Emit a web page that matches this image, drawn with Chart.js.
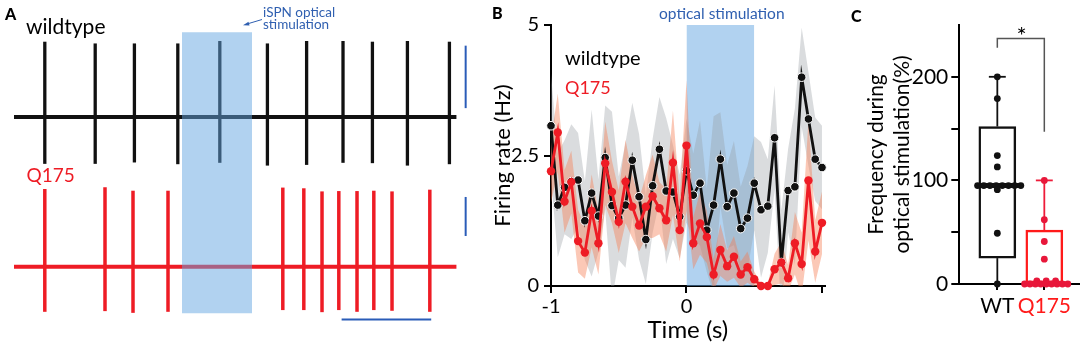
<!DOCTYPE html>
<html>
<head>
<meta charset="utf-8">
<script src="https://cdn.jsdelivr.net/npm/chart.js@4.4.1/dist/chart.umd.min.js"></script>
<style>
  body { margin: 0; background: #fff; }
  #fig { position: relative; width: 1084px; height: 347px; overflow: hidden; font-family: Lato, sans-serif; }
  canvas { position: absolute; top: 0; }
  .lbl { position: absolute; line-height: 1; white-space: nowrap; }
</style>
</head>
<body>
<div id="fig">
  <canvas id="traces" width="470" height="347" style="left:0"></canvas>
  <canvas id="rate" width="350" height="347" style="left:480px"></canvas>
  <canvas id="box" width="254" height="347" style="left:830px"></canvas>

  <div class="lbl" style="left:5px;top:6px;font-size:16px;font-weight:900">A</div>
  <div class="lbl" style="left:26px;top:14.7px;font-size:21px">wildtype</div>
  <div class="lbl" style="left:26.5px;top:165px;font-size:19px;color:#ee1c25">Q175</div>
  <div class="lbl" style="left:263px;top:6px;font-size:13.5px;line-height:12px;color:#2f5fb0">iSPN optical<br>stimulation</div>
  <svg style="position:absolute;left:0;top:0" width="300" height="40">
    <line x1="262" y1="19.5" x2="247" y2="24" stroke="#2f5fb0" stroke-width="1"/>
    <polygon points="243,25.2 248.5,21.8 249.5,25.5" fill="#2f5fb0"/>
  </svg>

  <div class="lbl" style="left:492px;top:5px;font-size:16px;font-weight:900">B</div>
  <div class="lbl" style="left:659px;top:6.3px;font-size:15.5px;color:#2f5fb0">optical stimulation</div>
  <div class="lbl" style="left:565px;top:46.6px;font-size:20px">wildtype</div>
  <div class="lbl" style="left:565px;top:78px;font-size:18px;color:#ee1c25">Q175</div>

  <div class="lbl" style="left:851px;top:7.5px;font-size:16px;font-weight:900">C</div>
  <div class="lbl" style="left:1011.7px;width:20px;text-align:center;top:22.7px;font-size:24px">*</div>
</div>
<script>
// ---- panel A: example traces (time in s, amplitude in trace units) ----
const traceDuration = 3.16;
const wtSpikeTimes = [0.22, 0.58, 0.86, 1.17, 1.47, 1.81, 2.09, 2.35, 2.56, 2.81, 3.11];
const wtSpikePeaks = [21.7, 21.2, 21.2, 21.2, 21.9, 21.2, 21.9, 21.9, 21.7, 21.9, 21.7];
const wtSpikeTroughs = [13.5, 13.5, 13.1, 13.6, 13.2, 14.0, 13.8, 13.2, 13.3, 14.0, 13.6];
const q175SpikeTimes = [0.22, 0.65, 0.85, 1.10, 1.92, 2.07, 2.20, 2.32, 2.45, 2.57, 2.70, 2.97];
const q175SpikePeaks = [22.4, 22.9, 21.9, 21.9, 22.8, 22.6, 21.7, 21.8, 21.8, 21.9, 21.7, 22.2];
const q175SpikeTroughs = [13.0, 12.8, 13.3, 13.0, 12.5, 12.5, 13.1, 12.5, 13.0, 12.5, 12.7, 13.0];
const stimWindowA = [1.2, 1.7];
const timeScaleBar = [2.34, 2.98];

// ---- panel B: firing rate, 50 ms bins ----
const timeBins = [-1, -0.95, -0.9, -0.85, -0.8, -0.75, -0.7, -0.65, -0.6, -0.55, -0.5,
  -0.45, -0.4, -0.35, -0.3, -0.25, -0.2, -0.15, -0.1, -0.05, 0,
  0.05, 0.1, 0.15, 0.2, 0.25, 0.3, 0.35, 0.4, 0.45, 0.5,
  0.55, 0.6, 0.65, 0.7, 0.75, 0.8, 0.85, 0.9, 0.95, 1];
const wtRate = [3.07, 1.55, 1.89, 2.0, 2.03, 1.25, 1.78, 1.34, 2.46, 1.54, 1.3,
  1.55, 2.41, 1.71, 0.89, 1.92, 2.62, 1.82, 1.8, 1.33, 2.21,
  1.74, 1.97, 1.07, 1.55, 2.43, 1.52, 1.78, 1.1, 1.3, 1.97,
  1.46, 1.53, 2.84, 0.45, 1.83, 1.9, 4.0, 3.2, 2.43, 2.27];
const wtSem = [1.0, 1.0, 0.9, 1.1, 0.9, 0.75, 1.6, 0.7, 1.0, 1.8, 0.8,
  1.2, 1.1, 1.2, 0.85, 0.9, 1.0, 1.4, 0.9, 0.8, 1.0,
  0.8, 1.2, 0.8, 1.7, 0.9, 0.8, 1.0, 0.8, 1.0, 0.9,
  1.3, 0.9, 1.0, 1.0, 0.8, 1.5, 0.95, 0.9, 0.8, 0.8];
const q175Rate = [2.2, 2.94, 1.62, 1.99, 0.86, 0.64, 1.44, 0.82, 2.35, 1.8, 1.23,
  2.0, 1.52, 1.16, 1.52, 1.72, 1.49, 1.26, 2.36, 1.07, 2.69,
  0.82, 1.2, 0.94, 0.22, 0.69, 0.38, 0.56, 0.22, 0.36, 0.13,
  0, 0, 0.32, 0.45, 0.15, 0.82, 0.42, 2.02, 0.66, 1.21];
const q175Sem = [0.6, 0.75, 0.6, 0.6, 0.6, 0.5, 0.7, 0.6, 0.8, 0.6, 0.6,
  0.8, 0.6, 0.5, 0.6, 0.8, 0.5, 0.6, 1.0, 0.6, 1.25,
  0.5, 0.6, 0.5, 0.3, 0.5, 0.3, 0.4, 0.25, 0.3, 0.15,
  0.05, 0.05, 0.3, 0.4, 0.25, 0.6, 0.6, 1.15, 0.6, 0.6];
const stimWindow = [0, 0.5];

// ---- panel C: % frequency during stimulation ----
const groups = ['WT', 'Q175'];
const wtValues = [200, 179, 124, 113, 95, 95, 95, 95, 95, 95, 95, 95, 91, 49, 0];
const q175Values = [100, 62, 41, 24, 3, 3, 3, 0, 0, 0, 0, 0, 0, 0, 0, 0];
const wtBox = [0, 25, 95, 152, 200];     // min, q1, median, q3, max
const q175Box = [0, 0, 0, 52, 100];

const BLACK = '#111';
const RED = '#ee1c25';
const STIM = 'rgba(100,165,225,0.5)';
Chart.defaults.font.family = 'Lato';
Chart.defaults.color = '#000';

const pts = (xs, ys) => xs.map((x, i) => ({ x: x, y: ys[i] }));
const seg = (x0, y0, x1, y1) => [{ x: x0, y: y0 }, { x: x1, y: y1 }];
const plain = { pointRadius: 0, fill: false, clip: false, borderCapStyle: 'butt' };

// ---------- A ----------
const wtOffset = 43.14;   // vertical placement of the wildtype trace
const q175Offset = 0;
const traceSets = [];
function addTrace(times, peaks, troughs, offset, color, w) {
  traceSets.push({ ...plain, data: seg(0, offset, traceDuration, offset), borderColor: color, borderWidth: 4, order: 5 });
  times.forEach((t, i) => {
    traceSets.push({ ...plain, data: seg(t, offset - troughs[i], t, offset + peaks[i]), borderColor: color, borderWidth: w, order: 5 });
  });
}
addTrace(wtSpikeTimes, wtSpikePeaks, wtSpikeTroughs, wtOffset, BLACK, 3.3);
addTrace(q175SpikeTimes, q175SpikePeaks, q175SpikeTroughs, q175Offset, RED, 3.5);
traceSets.push({ ...plain, data: seg(stimWindowA[0], 67.55, stimWindowA[1], 67.55), borderWidth: 0,
  fill: { value: -13.43 }, backgroundColor: STIM, order: 0 });
// scale bars
const SB = '#2a5cb8';
traceSets.push({ ...plain, data: seg(3.226, 45.7, 3.226, 63.7), borderColor: SB, borderWidth: 2, order: 1 });
traceSets.push({ ...plain, data: seg(3.226, 8.85, 3.226, 20.1), borderColor: SB, borderWidth: 2, order: 1 });
traceSets.push({ ...plain, data: seg(timeScaleBar[0], -15.2, timeScaleBar[1], -15.2), borderColor: SB, borderWidth: 2, order: 1 });

new Chart(document.getElementById('traces'), {
  type: 'line',
  data: { datasets: traceSets },
  options: {
    responsive: false, animation: false, devicePixelRatio: 1,
    plugins: { legend: { display: false }, tooltip: { enabled: false } },
    scales: {
      x: { type: 'linear', min: -0.1, max: 3.257, display: false },
      y: { min: -23.14, max: 76.86, display: false }
    }
  }
});

// ---------- B ----------
const upper = (m, s) => m.map((v, i) => v + s[i]);
const lower = (m, s) => m.map((v, i) => v - s[i]);
const band = { pointRadius: 0, borderWidth: 0 };

new Chart(document.getElementById('rate'), {
  type: 'line',
  data: {
    datasets: [
      { ...band, data: seg(stimWindow[0], 5, stimWindow[1], 5), fill: 'origin', backgroundColor: STIM, order: 10 },
      { ...band, data: pts(timeBins, upper(wtRate, wtSem)), fill: '+1', backgroundColor: 'rgba(150,155,160,0.35)', order: 9 },
      { ...band, data: pts(timeBins, lower(wtRate, wtSem)), fill: false, order: 9 },
      { ...band, data: pts(timeBins, upper(q175Rate, q175Sem)), fill: '+1', backgroundColor: 'rgba(245,125,80,0.42)', order: 8 },
      { ...band, data: pts(timeBins, lower(q175Rate, q175Sem)), fill: false, order: 8 },
      { label: 'wildtype', data: pts(timeBins, wtRate), borderColor: BLACK, borderWidth: 2.8, clip: false,
        pointRadius: 4.3, pointBackgroundColor: BLACK, pointBorderColor: '#fff', pointBorderWidth: 1, order: 2 },
      { label: 'Q175', data: pts(timeBins, q175Rate), borderColor: RED, borderWidth: 2.8, clip: false,
        pointRadius: 4.2, pointBackgroundColor: RED, pointBorderColor: RED, pointBorderWidth: 0, order: 1 }
    ]
  },
  options: {
    responsive: false, animation: false, devicePixelRatio: 1,
    layout: { padding: { top: 25, right: 2 } },
    plugins: { legend: { display: false }, tooltip: { enabled: false } },
    scales: {
      x: {
        type: 'linear', min: -1, max: 1.02,
        afterBuildTicks: s => { s.ticks = [-1, 0, 1].map(v => ({ value: v })); },
        afterFit: s => { s.height = 61; },
        ticks: { callback: v => (v === 1 ? '' : String(v)), font: { size: 20 }, padding: 2, maxRotation: 0, autoSkip: false },
        grid: { drawOnChartArea: false, tickLength: 7, color: '#000', lineWidth: 2 },
        border: { color: '#000', width: 2 },
        title: { display: true, text: 'Time (s)', font: { size: 24 }, padding: { top: 0, bottom: 2.6 } }
      },
      y: {
        min: 0, max: 5,
        afterBuildTicks: s => { s.ticks = [0, 2.5, 5].map(v => ({ value: v })); },
        afterFit: s => { s.width = 71; },
        ticks: { font: { size: 20 }, padding: 5 },
        grid: { drawOnChartArea: false, tickLength: 7, color: '#000', lineWidth: 2 },
        border: { color: '#000', width: 2 },
        title: { display: true, text: 'Firing rate (Hz)', font: { size: 22 }, padding: { top: 9.8, bottom: 0 } }
      }
    }
  }
});

// ---------- C ----------
function spread(values, center) {
  // spread tied values side by side
  const counts = {}, seen = {};
  values.forEach(v => { counts[v] = (counts[v] || 0) + 1; });
  return values.map(v => {
    const n = counts[v];
    const k = seen[v] = (seen[v] || 0) + 1;
    if (n === 1) return { x: center, y: v };
    const w = Math.min(0.92, 0.2 * (n - 1));
    return { x: center + 0.04 - w / 2 + (w * (k - 1)) / (n - 1), y: v };
  });
}
const boxSets = [];
function addBox(stats, center, color) {
  const [mn, q1, med, q3, mx] = stats;
  boxSets.push({ type: 'line', ...plain, data: seg(center, mn, center, q1), borderColor: color, borderWidth: 1.8, order: 4 });
  boxSets.push({ type: 'line', ...plain, data: seg(center, q3, center, mx), borderColor: color, borderWidth: 1.8, order: 4 });
  boxSets.push({ type: 'line', ...plain, data: seg(center - 0.18, mx, center + 0.18, mx), borderColor: color, borderWidth: 1.8, order: 4 });
  boxSets.push({ type: 'line', ...plain, data: seg(center - 0.4, med, center + 0.48, med), borderColor: color,
    borderWidth: 5, borderCapStyle: 'round', order: 3 });
}
addBox(wtBox, 1, BLACK);
addBox(q175Box, 2, '#ee1c3a');
boxSets.push({
  type: 'bar', data: [{ x: 1, y: [wtBox[1], wtBox[3]] }, { x: 2, y: [q175Box[1], q175Box[3]] }],
  backgroundColor: 'rgba(255,255,255,0)', borderColor: [BLACK, '#ff1a1a'], borderWidth: 1.8,
  borderSkipped: false, barThickness: 37, order: 5
});
boxSets.push({ type: 'scatter', data: spread(wtValues, 1), pointRadius: 3.4, pointBackgroundColor: BLACK, pointBorderWidth: 0, clip: false, order: 1 });
boxSets.push({ type: 'scatter', data: spread(q175Values, 2), pointRadius: 3.4, pointBackgroundColor: '#e8173a', pointBorderWidth: 0, clip: false, order: 1 });
// significance bracket
boxSets.push({ type: 'line', ...plain, data: [{ x: 1, y: 228 }, { x: 1, y: 237 }, { x: 2, y: 237 }, { x: 2, y: 147 }],
  borderColor: '#555', borderWidth: 1.5, order: 2 });

new Chart(document.getElementById('box'), {
  type: 'scatter',
  data: { datasets: boxSets },
  options: {
    responsive: false, animation: false, devicePixelRatio: 1,
    layout: { padding: { top: 25, right: 5 } },
    plugins: { legend: { display: false }, tooltip: { enabled: false } },
    scales: {
      x: {
        type: 'linear', min: 0.191, max: 2.738, offset: false,
        afterBuildTicks: s => { s.ticks = [1, 2].map(v => ({ value: v })); },
        afterFit: s => { s.height = 63; },
        ticks: { callback: v => groups[v - 1], color: c => (c.index === 1 ? '#ff1a1a' : '#000'),
          font: { size: 21 }, padding: 4, maxRotation: 0, autoSkip: false },
        grid: { drawOnChartArea: false, offset: false, tickLength: 6, color: '#000', lineWidth: 2 },
        border: { color: '#000', width: 2 }
      },
      y: {
        min: 0, max: 250,
        afterBuildTicks: s => { s.ticks = [0, 50, 100, 150, 200].map(v => ({ value: v })); },
        afterFit: s => { s.width = 129.3; },
        ticks: { callback: v => (v % 100 === 0 ? String(v) : ''), font: { size: 21 }, padding: 3 },
        grid: { drawOnChartArea: false, tickLength: 8, color: '#000', lineWidth: 2 },
        border: { color: '#000', width: 2 },
        title: { display: true, text: ['Frequency during', 'optical stimulation(%)'], font: { size: 21, lineHeight: 1.2 },
          padding: { top: 34, bottom: 0 } }
      }
    }
  }
});
</script>
</body>
</html>
